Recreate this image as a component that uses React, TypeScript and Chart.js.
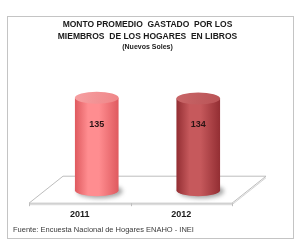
import React, { useEffect, useRef } from "react";
import { Chart, registerables } from "chart.js";

Chart.register(...registerables);

const categories = ["2011", "2012"];
const values = [135, 134];
const valueLabels = ["135", "134"];
const titleLines = ["MONTO PROMEDIO  GASTADO  POR LOS", "MIEMBROS  DE LOS HOGARES  EN LIBROS"];
const subtitleText = "(Nuevos Soles)";
const sourceText = "Fuente: Encuesta Nacional de Hogares ENAHO - INEI";

const palettes = [
  { edge: "#df5a5f", mid: "#ff8d90", top: "#ef8587", topHi: "#f6a0a2" },
  { edge: "#932e33", mid: "#c6595c", top: "#b95356", topHi: "#c96668" },
];

const SANS = "'Liberation Sans', Arial, sans-serif";

const decorPlugin = {
  id: "decor",
  beforeDraw(chart: any) {
    const ctx = chart.ctx;
    ctx.save();
    ctx.fillStyle = "#ffffff";
    ctx.fillRect(0, 0, chart.width, chart.height);
    ctx.strokeStyle = "#c4c4c4";
    ctx.lineWidth = 1;
    ctx.strokeRect(7.5, 16.5, 286, 222);
    ctx.restore();
  },
  beforeDatasetsDraw(chart: any) {
    const ctx = chart.ctx;
    const { left, right, bottom } = chart.chartArea;
    const dx = 17;
    const up = 14;
    const down = 13;
    ctx.save();
    ctx.strokeStyle = "#bdbdbd";
    ctx.lineWidth = 1;
    ctx.beginPath();
    ctx.moveTo(left + dx, bottom - up);
    ctx.lineTo(right + dx, bottom - up);
    ctx.lineTo(right - dx, bottom + down);
    ctx.lineTo(left - dx, bottom + down);
    ctx.closePath();
    ctx.stroke();
    ctx.strokeStyle = "#d4d4d4";
    ctx.beginPath();
    ctx.moveTo(left - dx, bottom + down + 1.5);
    ctx.lineTo(right - dx, bottom + down + 1.5);
    ctx.lineTo(right + dx, bottom - up + 1.5);
    ctx.stroke();
    ctx.strokeStyle = "#bdbdbd";
    const xs = [left - dx, (left + right) / 2 - dx, right - dx];
    xs.forEach((x) => {
      ctx.beginPath();
      ctx.moveTo(Math.round(x) + 0.5, bottom + down);
      ctx.lineTo(Math.round(x) + 0.5, bottom + down + 3);
      ctx.stroke();
    });
    ctx.restore();
  },
  afterDatasetsDraw(chart: any) {
    const ctx = chart.ctx;
    const meta = chart.getDatasetMeta(0);
    meta.data.forEach((bar: any, i: number) => {
      const { x, y, base, width } = bar.getProps(["x", "y", "base", "width"], true);
      const rx = width / 2;
      const ry = 6;
      const l = x - rx;
      const r = x + rx;
      const p = palettes[i % palettes.length];
      ctx.save();
      ctx.filter = "blur(2px)";
      ctx.fillStyle = "rgba(60,60,60,0.45)";
      ctx.beginPath();
      ctx.ellipse(x + 3, base + 1, rx + 1, ry + 1, 0, 0, Math.PI * 2);
      ctx.fill();
      ctx.filter = "none";
      const g = ctx.createLinearGradient(l, 0, r, 0);
      g.addColorStop(0, p.edge);
      g.addColorStop(0.3, p.mid);
      g.addColorStop(0.55, p.mid);
      g.addColorStop(1, p.edge);
      ctx.fillStyle = g;
      ctx.beginPath();
      ctx.moveTo(l, y);
      ctx.lineTo(l, base);
      ctx.ellipse(x, base, rx, ry, 0, Math.PI, 0, true);
      ctx.lineTo(r, y);
      ctx.closePath();
      ctx.fill();
      const tg = ctx.createLinearGradient(l, y - ry, r, y + ry);
      tg.addColorStop(0, p.topHi);
      tg.addColorStop(1, p.top);
      ctx.fillStyle = tg;
      ctx.beginPath();
      ctx.ellipse(x, y, rx, ry, 0, 0, Math.PI * 2);
      ctx.fill();
      ctx.fillStyle = "#2a1414";
      ctx.font = "bold 9px " + SANS;
      ctx.textAlign = "center";
      ctx.textBaseline = "middle";
      ctx.fillText(valueLabels[i], x, y + 0.29 * (base - y));
      ctx.restore();
    });
  },
  afterDraw(chart: any) {
    const ctx = chart.ctx;
    ctx.save();
    ctx.fillStyle = "#3a3a3a";
    ctx.font = "7.5px " + SANS;
    ctx.textAlign = "left";
    ctx.textBaseline = "middle";
    ctx.fillText(sourceText, 13, 230);
    ctx.restore();
  },
};

export default function App() {
  const ref = useRef<HTMLCanvasElement | null>(null);
  useEffect(() => {
    if (!ref.current) return;
    const chart = new Chart(ref.current, {
      type: "bar",
      data: {
        labels: categories,
        datasets: [
          {
            data: values,
            backgroundColor: "rgba(0,0,0,0)",
            borderWidth: 0,
            barPercentage: 0.43,
            categoryPercentage: 1,
          },
        ],
      },
      options: {
        responsive: false,
        animation: false,
        devicePixelRatio: 1,
        layout: { padding: { top: 0, left: 46, right: 51, bottom: 8 } },
        plugins: {
          legend: { display: false },
          tooltip: { enabled: false },
          title: {
            display: true,
            text: titleLines,
            color: "#1a1a1a",
            font: { family: SANS, size: 8.5, weight: "bold", lineHeight: 1.41 },
            padding: { top: 19, bottom: 0 },
          },
          subtitle: {
            display: true,
            text: subtitleText,
            color: "#1a1a1a",
            font: { family: SANS, size: 7, weight: "bold", lineHeight: 1.15 },
            padding: { top: 0, bottom: 9 },
          },
        },
        scales: {
          x: {
            grid: { display: false, drawTicks: false },
            border: { display: false },
            ticks: {
              color: "#1a1a1a",
              font: { family: SANS, size: 9, weight: "bold" },
              padding: 19,
              labelOffset: -17,
            },
          },
          y: {
            display: false,
            min: 0,
            max: 190,
          },
        },
      },
      plugins: [decorPlugin],
    });
    return () => chart.destroy();
  }, []);
  return (
    <div style={{ position: "fixed", left: 0, top: 0, width: 300, height: 247, background: "#fff" }}>
      <canvas ref={ref} width={300} height={247} style={{ display: "block" }} />
    </div>
  );
}
